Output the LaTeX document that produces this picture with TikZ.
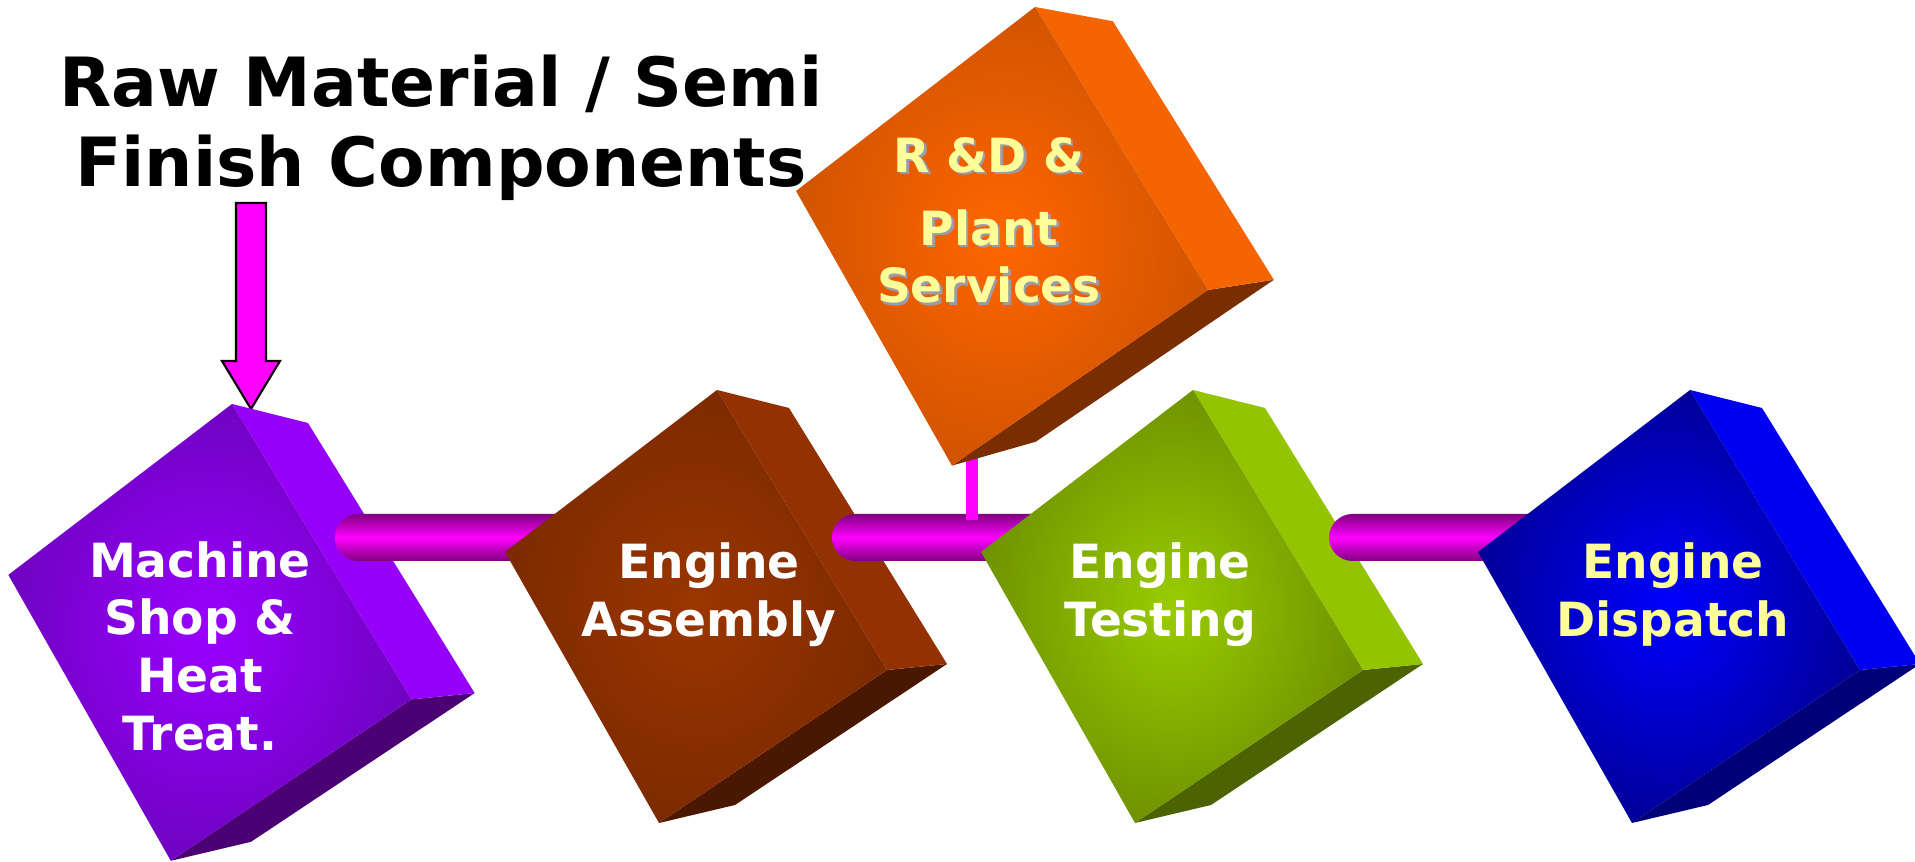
\documentclass[tikz,border=0pt]{standalone}
\usepackage{fontspec}
\setmainfont{DejaVu Sans}

% face colours of the stations
\definecolor{machineout}{HTML}{7003C2}
\definecolor{machinein}{HTML}{9A00FF}
\definecolor{machineside}{HTML}{9600F8}
\definecolor{machinebase}{HTML}{4B0073}
\definecolor{assemblyout}{HTML}{7D2A00}
\definecolor{assemblyin}{HTML}{9A3600}
\definecolor{assemblyside}{HTML}{933200}
\definecolor{assemblybase}{HTML}{4A1800}
\definecolor{serviceout}{HTML}{D25400}
\definecolor{servicein}{HTML}{FF6600}
\definecolor{serviceside}{HTML}{F46400}
\definecolor{servicebase}{HTML}{7A2E00}
\definecolor{testingout}{HTML}{6F9300}
\definecolor{testingin}{HTML}{9ACC00}
\definecolor{testingside}{HTML}{94C400}
\definecolor{testingbase}{HTML}{4B6300}
\definecolor{dispatchout}{HTML}{000099}
\definecolor{dispatchin}{HTML}{0000FF}
\definecolor{dispatchside}{HTML}{0000F0}
\definecolor{dispatchbase}{HTML}{000078}
\definecolor{pipedark}{HTML}{800080}
\definecolor{pipelight}{HTML}{FF00FF}
\definecolor{paleyellow}{HTML}{FFFF99}
\definecolor{shadowgrey}{HTML}{9C9CA8}

\tikzset{
	boxtext/.style={align=center,inner sep=0pt,text=white,font=\fontsize{13.4}{16.4}\selectfont\bfseries},
	titletext/.style={align=center,inner sep=0pt,font=\fontsize{19.3}{22.8}\selectfont\bfseries},
	pipe/.style={top color=pipedark,bottom color=pipedark,middle color=pipelight,rounded corners=0.235cm},
	feedarrow/.style={fill=pipelight,draw=black,line width=0.6pt,line join=miter},
}

% #1 top corner, #2 extra transform, #3 outer, #4 inner, #5 side, #6 base
\newcommand{\cube}[6]{%
	\begin{scope}[shift={#1},#2]
		\fill[#6] (170,280) -- (230,274) -- (18,415) -- (-58,433) -- cycle;
		\fill[#5] (0,0) -- (72,18) -- (230,274) -- (170,280) -- cycle;
		\shade[inner color=#4,outer color=#3] (0,0) -- (-212,162) -- (-58,433) -- (170,280) -- cycle;
	\end{scope}}

\begin{document}
\begin{tikzpicture}[x=0.01cm,y=-0.01cm]
			\useasboundingbox (0,0) rectangle (1915,862);

			% title and feed arrow
			\node[titletext] (rawmat) at (441,128) {Raw Material / Semi\\Finish Components};
			\coordinate (rawtip) at (251,409);
			\filldraw[feedarrow] (rawtip) -- ++(-29,-48) -- ++(14,0) -- ++(0,-158) -- ++(30,0) -- ++(0,158) -- ++(14,0) -- cycle;

			% machine shop
			\cube{(232,404)}{scale=1.055}{machineout}{machinein}{machineside}{machinebase}

			% pipe machine shop -> assembly
			\coordinate (pipeA) at (335,514);
			\coordinate (pipeAend) at (600,561);
			\shade[pipe] (pipeA) rectangle (pipeAend);

			% assembly
			\cube{(717,390)}{}{assemblyout}{assemblyin}{assemblyside}{assemblybase}

			% pipe assembly -> testing
			\coordinate (pipeB) at (832,514);
			\coordinate (pipeBend) at (1060,561);
			\shade[pipe] (pipeB) rectangle (pipeBend);

			% R&D drop onto the line
			\coordinate (dropA) at (966,440);
			\coordinate (dropB) at (978,520);
			\fill[pipelight] (dropA) rectangle (dropB);

			% R&D and plant services
			\cube{(1035,7)}{cm={1.0926,0.0653,0.0455,1.0504,(0,0)}}{serviceout}{servicein}{serviceside}{servicebase}

			% testing
			\cube{(1193,390)}{}{testingout}{testingin}{testingside}{testingbase}

			% pipe testing -> dispatch
			\coordinate (pipeC) at (1329,514);
			\coordinate (pipeCend) at (1560,561);
			\shade[pipe] (pipeC) rectangle (pipeCend);

			% dispatch
			\cube{(1690,390)}{}{dispatchout}{dispatchin}{dispatchside}{dispatchbase}

			% station labels
			\node[boxtext] (machine) at (200,646) {Machine\\Shop \&\\Heat\\Treat.};
			\node[boxtext] (assembly) at (709,594.5) {Engine\\Assembly};
			\node[boxtext,text=shadowgrey] (rdshadow) at (991.5,223) {R \&D \&\\[4.3pt]Plant\\Services};
			\node[boxtext,text=paleyellow] (rd) at (989,220.5) {R \&D \&\\[4.3pt]Plant\\Services};
			\node[boxtext] (testing) at (1160,594.5) {Engine\\Testing};
			\node[boxtext,text=paleyellow] (dispatch) at (1673,594.5) {Engine\\Dispatch};
		\end{tikzpicture}
\end{document}
